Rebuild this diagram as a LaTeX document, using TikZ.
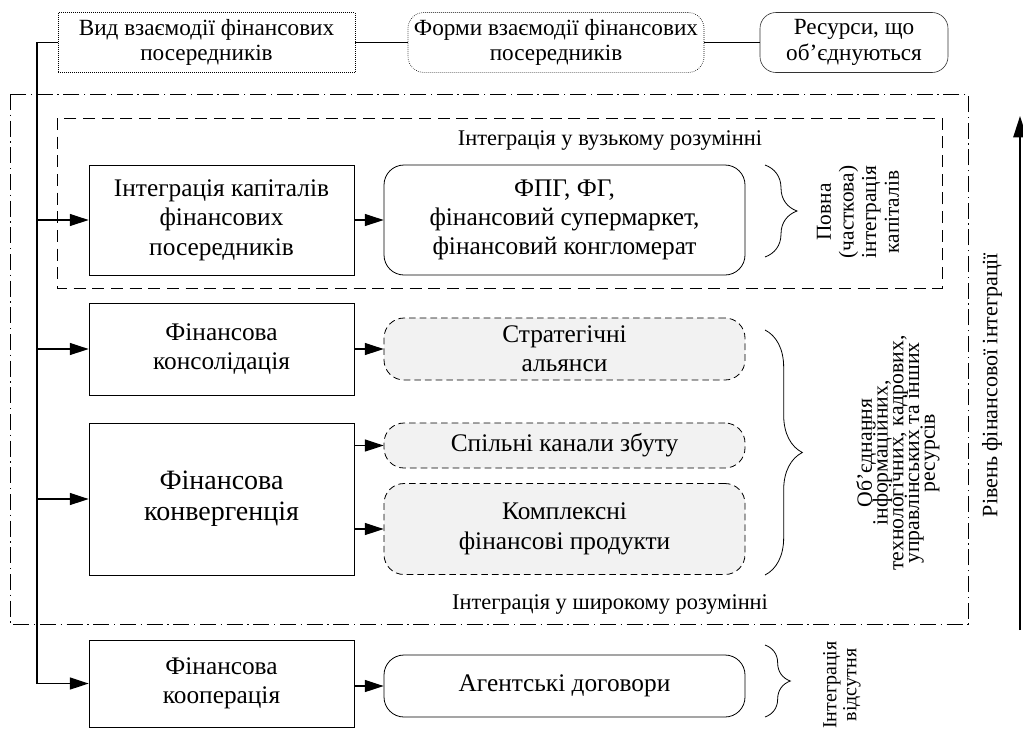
\documentclass[tikz,border=0pt]{standalone}
\usepackage{fontspec}
\setmainfont{Liberation Serif}
\usetikzlibrary{arrows.meta,decorations.pathreplacing}
\newcommand\fsz[2]{\fontsize{#1}{#2}\selectfont\lineskiplimit=-20pt\relax}
\begin{document}
\begin{tikzpicture}[x=0.75pt,y=-0.75pt,
  headbox/.style={draw, densely dotted, line width=0.5pt, minimum height=45pt,
    align=center, inner sep=1pt, font=\fsz{17.4}{19}},
  kind/.style={draw, line width=0.6pt, minimum width=198.75pt, align=center,
    inner sep=2pt, font=\fsz{19}{22}},
  form/.style={draw, line width=0.6pt, rounded corners=15pt, minimum width=270.75pt,
    align=center, inner sep=2pt, font=\fsz{19}{22}},
  softform/.style={form, dash pattern=on 5pt off 3pt, fill=gray!10},
  link/.style={line width=0.9pt, -{Triangle[length=14pt,width=9pt]}},
  joint/.style={line width=0.9pt},
  widezone/.style={line width=0.7pt, dash pattern=on 12pt off 3.5pt on 1pt off 3.5pt},
  narrowzone/.style={line width=0.7pt, dash pattern=on 9pt off 5pt},
  brc/.style={decorate, line width=0.6pt},
  sidenote/.style={rotate=90, align=center, font=\fsz{16}{17}},
  zonelabel/.style={font=\fsz{16.8}{19}}
]
\useasboundingbox (0,0) rectangle (1023,728);

% column headings
\node[headbox, minimum width=222.75pt] (top1) at (206.5,42.5)
  {Вид взаємодії фінансових\\посередників};
\node[headbox, rounded corners=12pt, minimum width=222pt] (top2) at (556,42.5)
  {Форми взаємодії фінансових\\посередників};
\node[headbox, solid, draw=black!80, line width=0.45pt, rounded corners=12pt,
  minimum width=141pt] (top3) at (854,42.5)
  {Ресурси, що\\об’єднуються};
\draw[joint] (top1.east) -- (top2.west);
\draw[joint] (top2.east) -- (top3.west);

% integration zones
\draw[widezone] (10,94) rectangle (968,624);
\draw[narrowzone] (57,118) rectangle (942,288);
\node[zonelabel] (narrowlbl) at (610,140) {Інтеграція у вузькому розумінні};
\node[zonelabel] (widelbl) at (610,604) {Інтеграція у широкому розумінні};

% kinds of interaction
\node[kind, minimum height=82.5pt] (cap) at (221.5,220)
  {Інтеграція капіталів\\фінансових\\посередників};
\node[kind, minimum height=69pt] (kons) at (221.5,349)
  {Фінансова\\консолідація};
\node[kind, minimum height=114pt, font=\fsz{21}{23}] (konv) at (221.5,499)
  {Фінансова\\конвергенція};
\node[kind, minimum height=65.25pt] (koop) at (221.5,683.5)
  {Фінансова\\кооперація};

% forms of interaction
\node[form, minimum height=82.5pt] (fpg) at (564.5,220)
  {ФПГ, ФГ,\\фінансовий супермаркет,\\фінансовий конгломерат};
\node[softform, minimum height=46.5pt] (strat) at (564.5,349)
  {Стратегічні\\альянси};
\node[softform, minimum height=33.75pt] (sales) at (564.5,445.5)
  {Спільні канали збуту};
\node[softform, minimum height=68.25pt] (prod) at (564.5,529)
  {Комплексні\\фінансові продукти};
\node[form, minimum height=46.5pt] (agent) at (564.5,686)
  {Агентські договори};

% trunk line and arrows
\coordinate (trunk) at (37,42.5);
\draw[link] (top1.west) -- (trunk) |- (koop.west);
\draw[link] (trunk |- cap.west) -- (cap.west);
\draw[link] (trunk |- kons.west) -- (kons.west);
\draw[link] (trunk |- konv.west) -- (konv.west);

\draw[link] (cap.east) -- (fpg.west);
\draw[link] (kons.east |- strat.west) -- (strat.west);
\draw[link] (konv.east |- sales.west) -- (sales.west);
\draw[link] (konv.east |- prod.west) -- (prod.west);
\draw[link] (koop.east |- agent.west) -- (agent.west);

% braces and the resources they group
\draw[brc, decoration={brace, amplitude=24pt}] (765,165) -- (765,257);
\draw[brc, decoration={brace, amplitude=28pt}] (765,330) -- (765,575);
\draw[brc, decoration={brace, amplitude=19pt}] (765,645) -- (765,717);

\node[sidenote] (full) at (858,212)
  {Повна\\(часткова)\\інтеграція\\капіталів};
\node[sidenote, font=\fsz{16.3}{11.8}] (pool) at (898,453)
  {Об’єднання\\інформаційних,\\технологічних, кадрових,\\управлінських та інших\\ресурсів};
\node[sidenote, font=\fsz{15}{15}] (none) at (842,685)
  {Інтеграція\\відсутня};

% integration level axis
\coordinate (lvlbot) at (1020,630);
\coordinate (lvltop) at (1020,116);
\draw[line width=1.2pt, -{Triangle[length=16pt,width=10pt]}] (lvlbot) -- (lvltop);
\node[sidenote, font=\fsz{16.5}{18}] (lvl) at (992,385) {Рівень фінансової інтеграції};
\end{tikzpicture}
\end{document}
